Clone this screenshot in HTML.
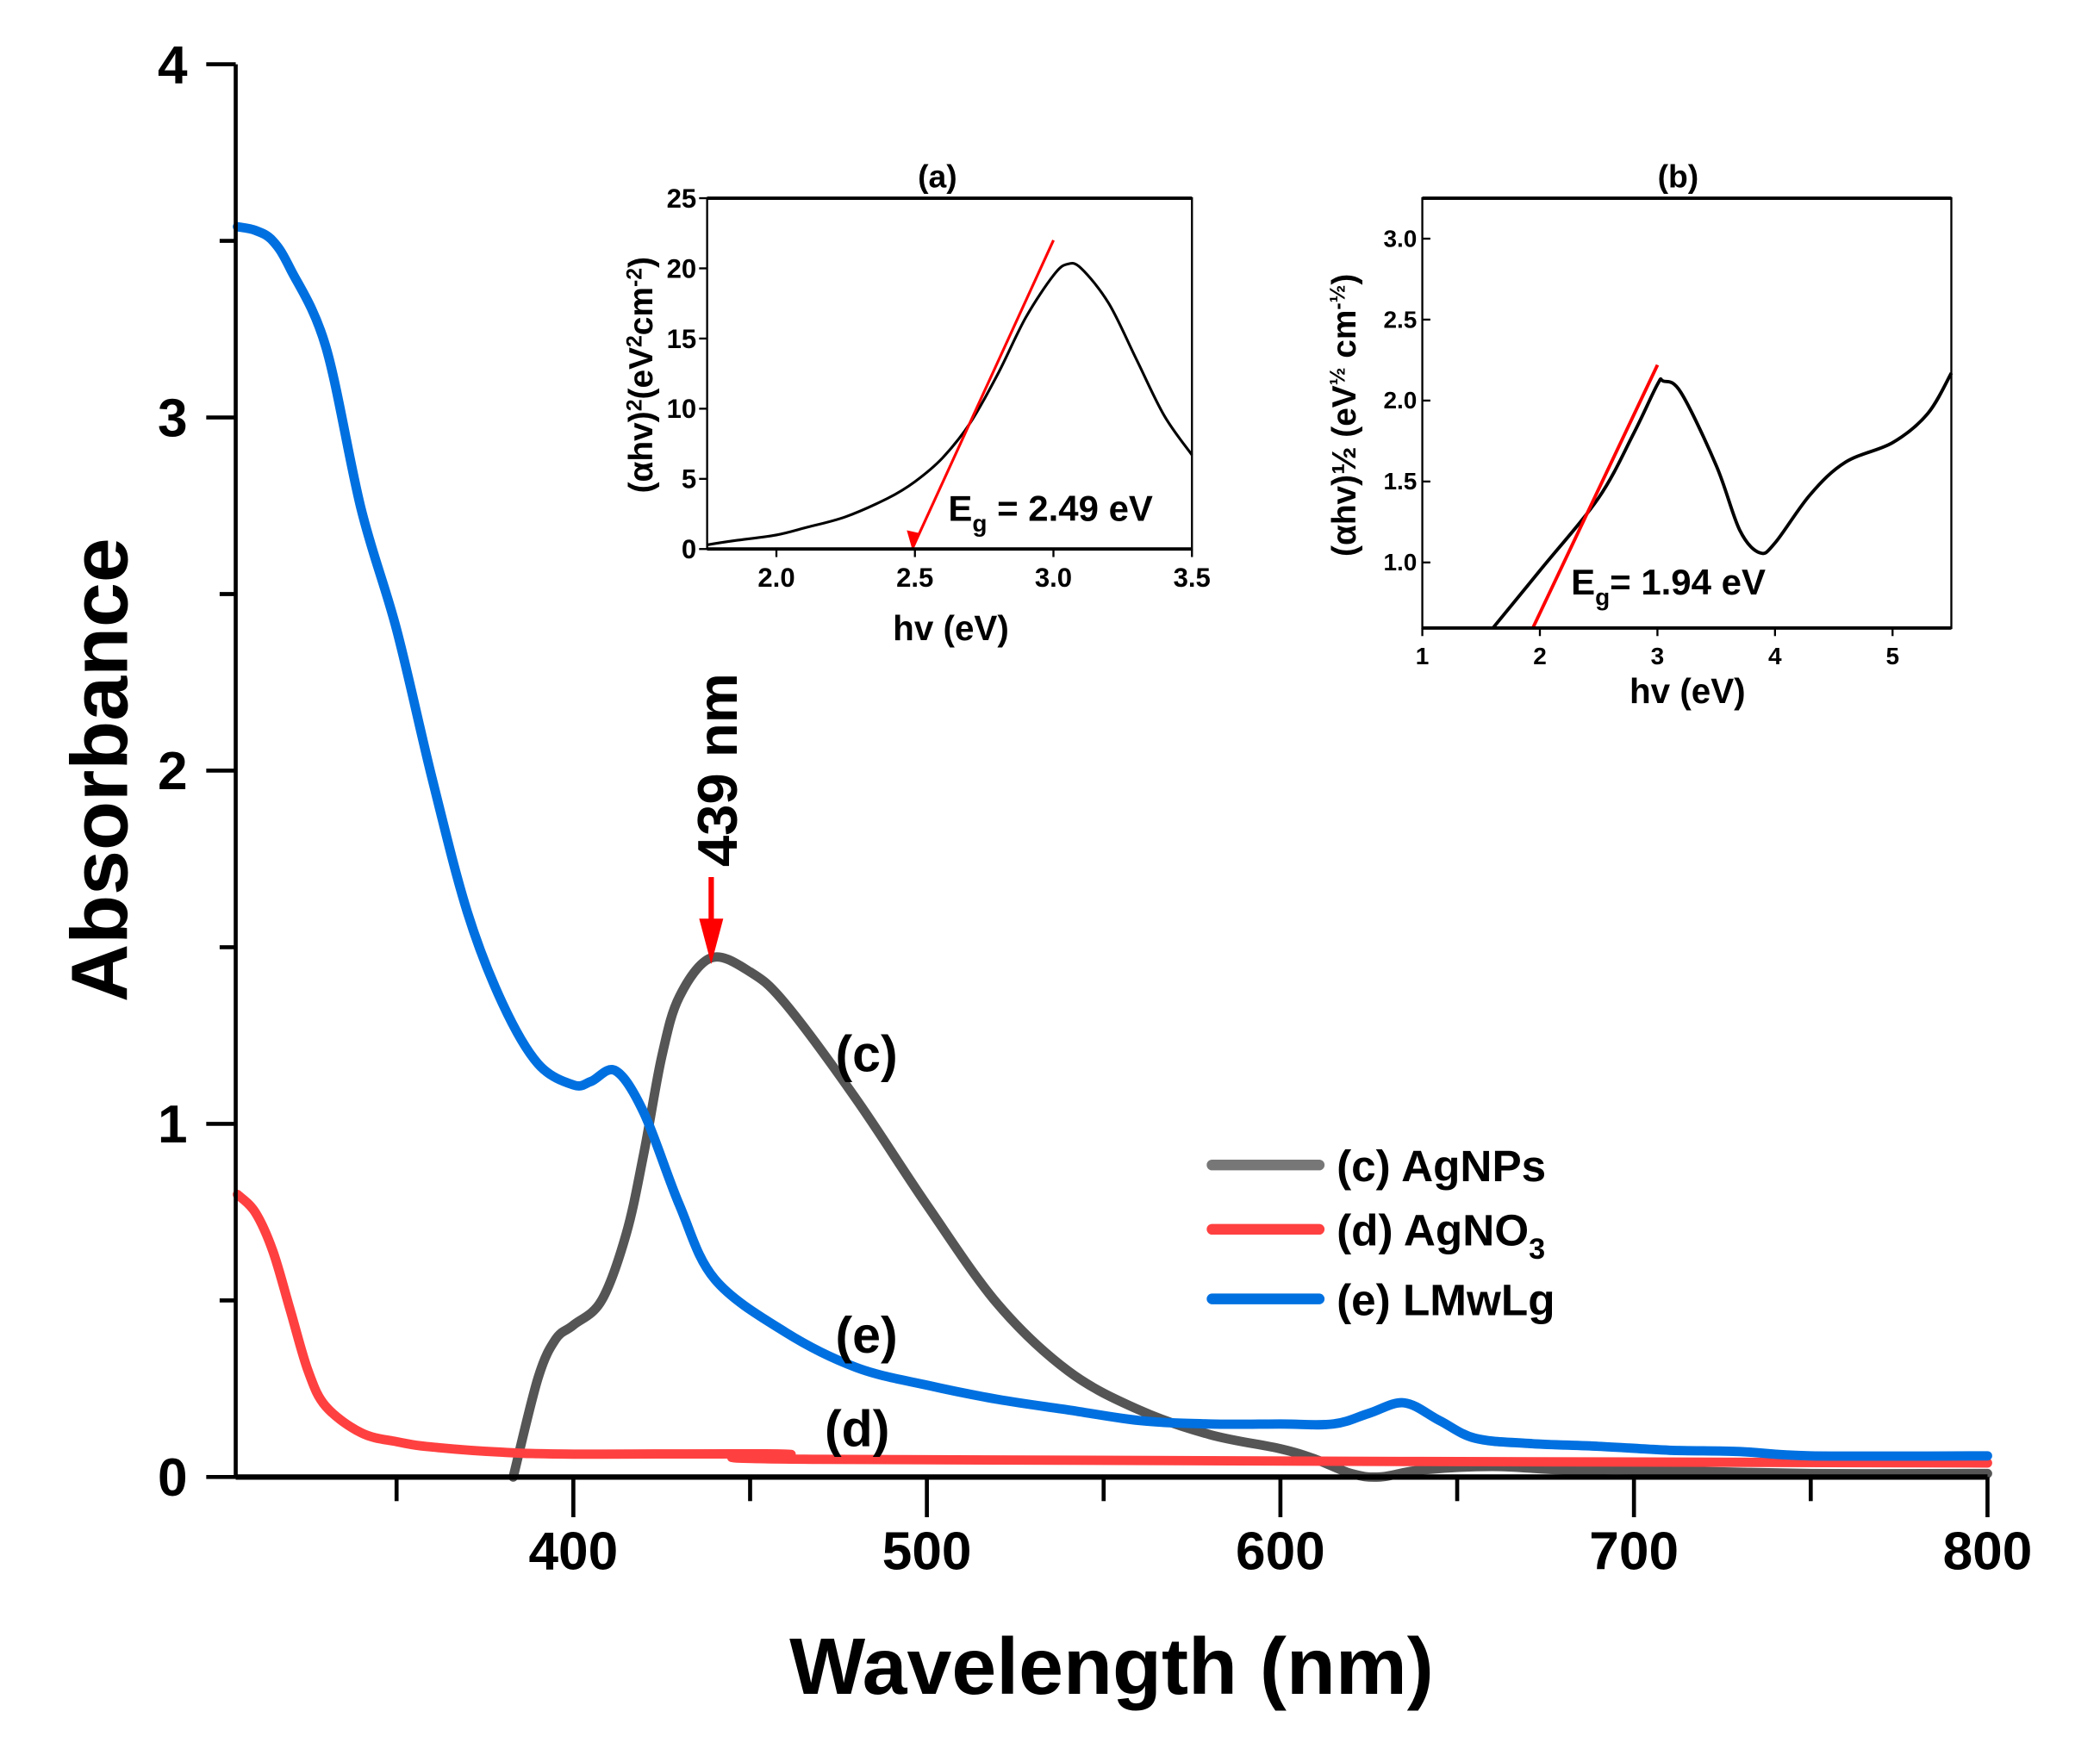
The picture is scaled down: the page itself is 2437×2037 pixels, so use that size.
<!DOCTYPE html>
<html><head><meta charset="utf-8"><style>
html,body{margin:0;padding:0;background:#fff;}
svg{display:block;font-family:"Liberation Sans",Arial,sans-serif;font-weight:bold;}
</style></head><body>
<svg id="chart" width="2437" height="2037" viewBox="0 0 1568 1310.6" preserveAspectRatio="none" xmlns="http://www.w3.org/2000/svg">
<g id="main"></g>
<g id="insetA"></g>
<g id="insetB"></g>
</svg>
<script>
// ---- main chart data ----
const xTicks = [400, 500, 600, 700, 800];
const yTicks = [0, 1, 2, 3, 4];
const agnpsX = [383,390,395,400,408,415,420,425,430,439,450,460,480,500,520,540,560,580,600,610,620,628,640,660,680,700,750,800];
const agnpsY = [0,0.28,0.39,0.43,0.5,0.69,0.92,1.19,1.36,1.47,1.43,1.34,1.07,0.77,0.49,0.3,0.19,0.12,0.08,0.05,0.01,0,0.02,0.03,0.02,0.02,0.01,0.01];
const agno3X = [305,310,315,320,325,330,340,350,360,380,400,460,470,800];
const agno3Y = [0.8,0.75,0.64,0.47,0.3,0.2,0.125,0.1,0.085,0.07,0.065,0.065,0.05,0.04];
const lmwX = [305,310,315,320,330,340,350,360,370,380,390,400,405,412,420,430,440,460,480,500,520,540,560,580,600,615,625,635,645,655,670,690,710,730,750,800];
const lmwY = [3.54,3.53,3.5,3.42,3.2,2.74,2.4,1.98,1.6,1.34,1.17,1.11,1.12,1.15,1.03,0.77,0.56,0.41,0.31,0.26,0.22,0.19,0.16,0.15,0.15,0.15,0.18,0.21,0.16,0.11,0.095,0.087,0.076,0.072,0.06,0.06];
// ---- inset a data ----
const aTicksX = [2.0, 2.5, 3.0, 3.5];
const aTicksY = [0, 5, 10, 15, 20, 25];
const aX = [1.75,1.85,2.0,2.1,2.25,2.4,2.5,2.6,2.7,2.8,2.9,3.0,3.05,3.1,3.2,3.3,3.4,3.5];
const aY = [0.3,0.6,1.0,1.5,2.3,3.6,4.8,6.5,9.0,12.5,16.5,19.5,20.3,20.0,17.5,13.5,9.5,6.7];
const aFitX = [3.0, 2.49];
const aFitY = [22, 0];
// ---- inset b data ----
const bTicksX = [1, 2, 3, 4, 5];
const bTicksY = [1.0, 1.5, 2.0, 2.5, 3.0];
const bX = [1.6,2.0,2.5,2.8,3.0,3.05,3.2,3.5,3.7,3.87,4.0,4.3,4.6,5.0,5.3,5.5];
const bY = [0.595,0.95,1.4,1.8,2.1,2.12,2.05,1.6,1.2,1.06,1.12,1.42,1.62,1.74,1.92,2.17];
const bFitX = [1.94, 3.0];
const bFitY = [0.595, 2.22];

const NS = "http://www.w3.org/2000/svg";
function mk(parent, tag, attrs, text){
  const e = document.createElementNS(NS, tag);
  for (const k in attrs) e.setAttribute(k, attrs[k]);
  if (text !== undefined) e.textContent = text;
  parent.appendChild(e);
  return e;
}
function pathFrom(xs, ys, sx, sy){
  return xs.map((x,i)=>(i?'L':'M')+sx(x).toFixed(1)+' '+sy(ys[i]).toFixed(1)).join(' ');
}
function smoothFrom(xs, ys, sx, sy){
  const p = xs.map((x,i)=>[sx(x), sy(ys[i])]);
  let d = 'M'+p[0][0].toFixed(1)+' '+p[0][1].toFixed(1);
  for (let i=0;i<p.length-1;i++){
    const p0=p[Math.max(0,i-1)], p1=p[i], p2=p[i+1], p3=p[Math.min(p.length-1,i+2)];
    const c1=[p1[0]+(p2[0]-p0[0])/6, p1[1]+(p2[1]-p0[1])/6];
    const c2=[p2[0]-(p3[0]-p1[0])/6, p2[1]-(p3[1]-p1[1])/6];
    d += ' C'+c1[0].toFixed(1)+' '+c1[1].toFixed(1)+' '+c2[0].toFixed(1)+' '+c2[1].toFixed(1)+' '+p2[0].toFixed(1)+' '+p2[1].toFixed(1);
  }
  return d;
}

// main axes
const main = document.getElementById('main');
const X0=176, X1=1484, Y0=1103, Y1=48;
const sx = v => X0 + (v-304.5)/(800-304.5)*(X1-X0);
const sy = v => Y0 - v/4*(Y0-Y1);

let e;
[[agnpsX,agnpsY,'#555555','agnps-line'],[agno3X,agno3Y,'#ff4040','agno3-line'],[lmwX,lmwY,'#0070e0','lmwlg-line']].forEach(s=>{
  e = mk(main,'path',{d:smoothFrom(s[0],s[1],sx,sy),fill:'none',stroke:s[2],'stroke-width':7,'stroke-linejoin':'round','stroke-linecap':'round'});
  
  
});
e = mk(main,'line',{x1:X0,y1:Y0,x2:X1,y2:Y0,stroke:'#000','stroke-width':4});


e = mk(main,'line',{x1:X0,y1:Y0,x2:X0,y2:Y1,stroke:'#000','stroke-width':3});


for (let v=350; v<=800; v+=50){
  const major = v%100===0;
  mk(main,'line',{x1:sx(v),y1:Y0,x2:sx(v),y2:Y0+(major?30:18),stroke:'#000','stroke-width':3});
}
xTicks.forEach(v=>{
  e = mk(main,'text',{x:sx(v),y:1172,'font-size':40,'text-anchor':'middle'},String(v));
  
  
});
for (let v=0; v<=4; v+=0.5){
  const major = v%1===0;
  mk(main,'line',{x1:X0,y1:sy(v),x2:X0-(major?22:12),y2:sy(v),stroke:'#000','stroke-width':3});
}
yTicks.forEach(v=>{
  e = mk(main,'text',{x:140,y:sy(v)+14,'font-size':40,'text-anchor':'end'},String(v));
  
  
});
e = mk(main,'text',{x:830,y:1265,'font-size':60,'text-anchor':'middle'},'Wavelength (nm)');


e = mk(main,'text',{x:95,y:575,'font-size':60,'text-anchor':'middle',transform:'rotate(-90 95 575)'},'Absorbance');


e = mk(main,'text',{x:550,y:575,'font-size':42,'text-anchor':'middle',transform:'rotate(-90 550 575)'},'439 nm');


mk(main,'line',{x1:sx(439),y1:655,x2:sx(439),y2:690,stroke:'#ff0000','stroke-width':4});
mk(main,'path',{d:`M${sx(439)-9} 686 L${sx(439)+9} 686 L${sx(439)} 720 Z`,fill:'#ff0000'});
[['(c)',647,800,'label-c'],['(e)',647,1010,'label-e'],['(d)',640,1080,'label-d']].forEach(l=>{
  e = mk(main,'text',{x:l[1],y:l[2],'font-size':38,'text-anchor':'middle'},l[0]);
  
  
});
[['#777777','(c) AgNPs',870,'legend-agnps'],['#ff4040','(d) AgNO',918,'legend-agno3'],['#0070e0','(e) LMwLg',970,'legend-lmwlg']].forEach(l=>{
  const g = mk(main,'g',{});
  
  
  mk(g,'line',{x1:905,y1:l[2],x2:985,y2:l[2],stroke:l[0],'stroke-width':8,'stroke-linecap':'round'});
  const t = mk(g,'text',{x:998,y:l[2]+12,'font-size':33},l[1]);
  if (l[3]==='legend-agno3'){ mk(t,'tspan',{'font-size':22,dy:10},'3'); }
});

// inset a
const ia = document.getElementById('insetA');
const aL=528,aR=890,aT=148,aB=410;
const ax = v => aL + (v-1.75)/(3.5-1.75)*(aR-aL);
const ay = v => aB - v/25*(aB-aT);
e = mk(ia,'path',{d:smoothFrom(aX,aY,ax,ay),fill:'none',stroke:'#000','stroke-width':2});


e = mk(ia,'path',{d:pathFrom(aFitX,aFitY,ax,ay),fill:'none',stroke:'#ff0000','stroke-width':2});


mk(ia,'path',{d:`M${ax(2.49)-4} ${aB-14} L${ax(2.49)+5} ${aB-12} L${ax(2.49)} ${aB} Z`,fill:'#ff0000'});
mk(ia,'rect',{x:aL,y:aT,width:aR-aL,height:aB-aT,fill:'none',stroke:'#000','stroke-width':1.5});
mk(ia,'line',{x1:aL,y1:aB,x2:aR,y2:aB,stroke:'#000','stroke-width':2.5});
mk(ia,'line',{x1:aL,y1:aT,x2:aR,y2:aT,stroke:'#000','stroke-width':2.5});
aTicksX.forEach(v=>{
  mk(ia,'line',{x1:ax(v),y1:aB,x2:ax(v),y2:aB+6,stroke:'#000','stroke-width':1.5});
  e = mk(ia,'text',{x:ax(v),y:aB+28,'font-size':20,'text-anchor':'middle'},v.toFixed(1));
  
  
});
aTicksY.forEach(v=>{
  mk(ia,'line',{x1:aL,y1:ay(v),x2:aL-6,y2:ay(v),stroke:'#000','stroke-width':1.5});
  e = mk(ia,'text',{x:aL-8,y:ay(v)+7,'font-size':20,'text-anchor':'end'},String(v));
  
  
});
e = mk(ia,'text',{x:700,y:140,'font-size':24,'text-anchor':'middle'},'(a)');


e = mk(ia,'text',{x:710,y:478,'font-size':26,'text-anchor':'middle'},'hv (eV)');


e = mk(ia,'text',{x:487,y:280,'font-size':25,'text-anchor':'middle',transform:'rotate(-90 487 280)'},'(αhv)');


mk(e,'tspan',{'font-size':16,dy:-8},'2');
mk(e,'tspan',{dy:8},'(eV');
mk(e,'tspan',{'font-size':16,dy:-8},'2');
mk(e,'tspan',{dy:8},'cm');
mk(e,'tspan',{'font-size':16,dy:-8},'-2');
mk(e,'tspan',{dy:8},')');
e = mk(ia,'text',{x:708,y:389,'font-size':27},'E');


mk(e,'tspan',{'font-size':18,dy:8},'g');
mk(e,'tspan',{dy:-8},' = 2.49 eV');

// inset b
const ib = document.getElementById('insetB');
const bL=1062,bR=1457,bT=148,bB=469;
const bx = v => bL + (v-1)/(5.5-1)*(bR-bL);
const by = v => bB - (v-0.595)/(3.25-0.595)*(bB-bT);
e = mk(ib,'path',{d:smoothFrom(bX,bY,bx,by),fill:'none',stroke:'#000','stroke-width':2.5});


e = mk(ib,'path',{d:pathFrom(bFitX,bFitY,bx,by),fill:'none',stroke:'#ff0000','stroke-width':2.5});


mk(ib,'rect',{x:bL,y:bT,width:bR-bL,height:bB-bT,fill:'none',stroke:'#000','stroke-width':1.5});
mk(ib,'line',{x1:bL,y1:bB,x2:bR,y2:bB,stroke:'#000','stroke-width':2.5});
mk(ib,'line',{x1:bL,y1:bT,x2:bR,y2:bT,stroke:'#000','stroke-width':2.5});
bTicksX.forEach(v=>{
  mk(ib,'line',{x1:bx(v),y1:bB,x2:bx(v),y2:bB+6,stroke:'#000','stroke-width':1.5});
  e = mk(ib,'text',{x:bx(v),y:bB+27,'font-size':18,'text-anchor':'middle'},String(v));
  
  
});
bTicksY.forEach(v=>{
  mk(ib,'line',{x1:bL,y1:by(v),x2:bL+6,y2:by(v),stroke:'#000','stroke-width':1.5});
  e = mk(ib,'text',{x:bL-4,y:by(v)+6,'font-size':18,'text-anchor':'end'},v.toFixed(1));
  
  
});
e = mk(ib,'text',{x:1253,y:140,'font-size':24,'text-anchor':'middle'},'(b)');


e = mk(ib,'text',{x:1260,y:525,'font-size':26,'text-anchor':'middle'},'hv (eV)');


e = mk(ib,'text',{x:1012,y:310,'font-size':25,'text-anchor':'middle',transform:'rotate(-90 1012 310)'},'(αhv)½ (eV');


mk(e,'tspan',{'font-size':16,dy:-8},'½');
mk(e,'tspan',{dy:8},' cm');
mk(e,'tspan',{'font-size':16,dy:-8},'-½');
mk(e,'tspan',{dy:8},')');
e = mk(ib,'text',{x:1173,y:444,'font-size':27},'E');


mk(e,'tspan',{'font-size':18,dy:8},'g');
mk(e,'tspan',{dy:-8},'= 1.94 eV');
</script>
</body></html>
